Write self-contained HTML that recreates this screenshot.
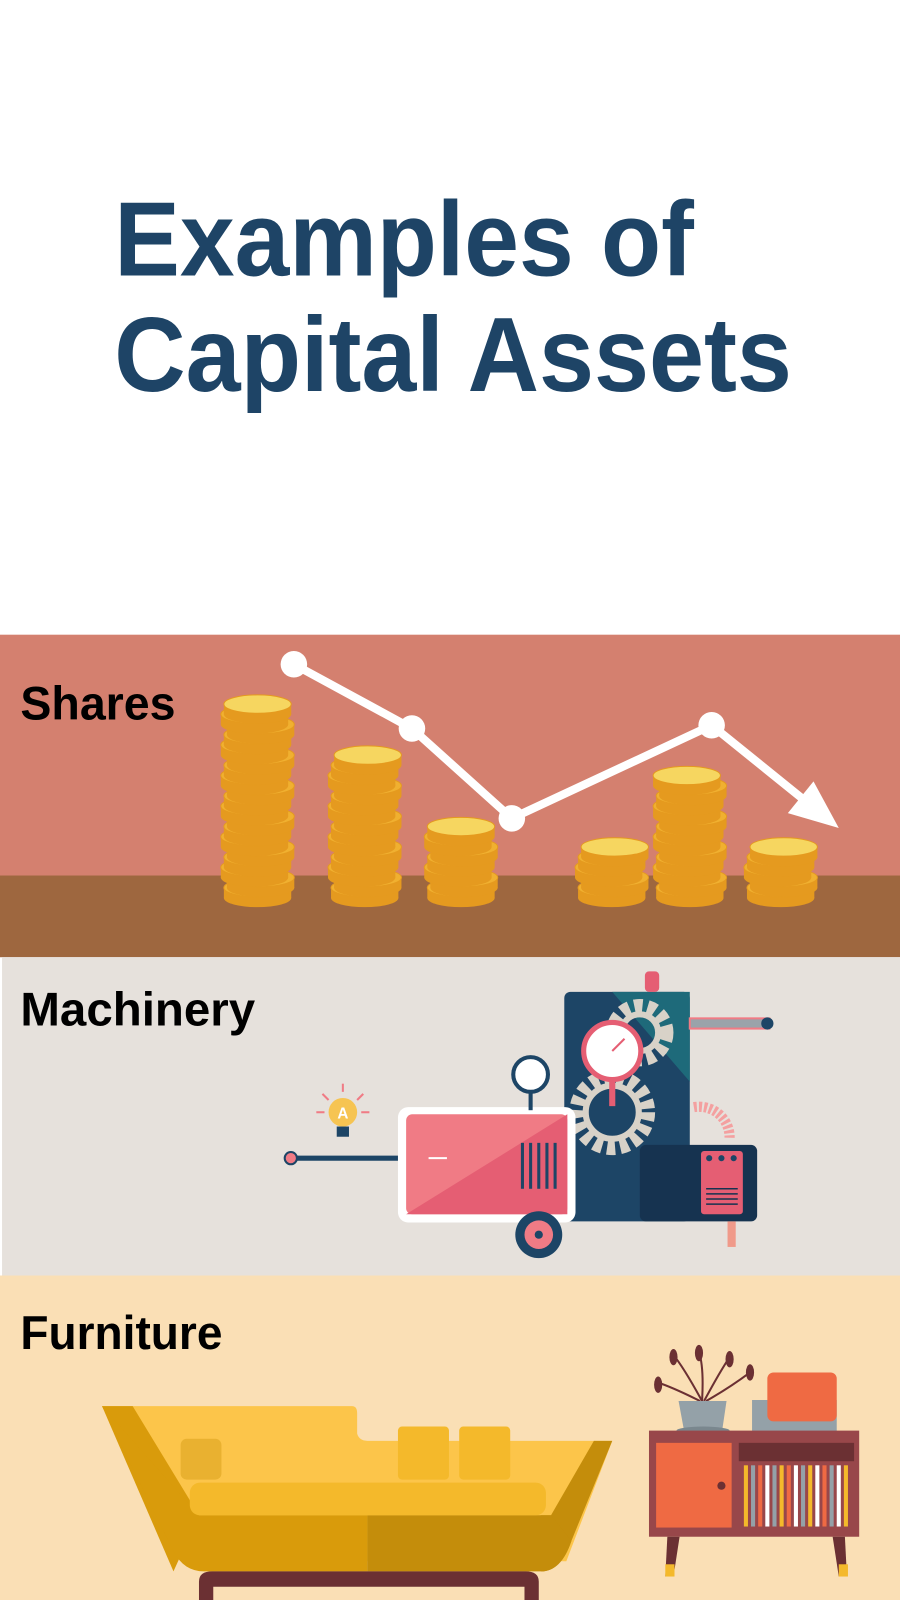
<!DOCTYPE html>
<html><head><meta charset="utf-8"><style>html,body{margin:0;padding:0;background:#fff}svg{display:block}</style></head>
<body>
<svg width="900" height="1600" viewBox="0 0 882 1568" xmlns="http://www.w3.org/2000/svg" font-family="Liberation Sans, sans-serif">
<rect width="882" height="1568" fill="#fff"/>
<g fill="#1e4466" font-weight="bold" font-size="104">
<text x="112" y="270" textLength="568" lengthAdjust="spacingAndGlyphs">Examples of</text>
<text x="112" y="383" textLength="664" lengthAdjust="spacingAndGlyphs">Capital Assets</text>
</g>

<g>
<rect x="0" y="622" width="882" height="316" fill="#d4806f"/>
<rect x="0" y="858" width="882" height="80" fill="#9e673f"/>
<text x="20" y="705" font-size="46" font-weight="bold" textLength="152" lengthAdjust="spacingAndGlyphs">Shares</text>
<g id="coins"></g>
<g id="trend"></g>
</g>

<g>
<rect x="2" y="938" width="880" height="312" fill="#e6e1dc"/>
<text x="20" y="1005" font-size="46" font-weight="bold" textLength="230" lengthAdjust="spacingAndGlyphs">Machinery</text>
<g>
<line x1="284" y1="1135" x2="392" y2="1135" stroke="#1d4566" stroke-width="5"/>
<circle cx="285" cy="1135" r="6" fill="#f07b85" stroke="#1d4566" stroke-width="2"/>
<g>
<circle cx="336" cy="1090" r="14" fill="#f6c452"/>
<rect x="330" y="1104" width="12" height="10" fill="#1d4566"/>
<text x="336" y="1096" font-size="15" font-weight="bold" fill="#fff" text-anchor="middle">A</text>
<g stroke="#f07b85" stroke-width="2"><line x1="336" y1="1062" x2="336" y2="1070"/><line x1="310" y1="1090" x2="318" y2="1090"/><line x1="354" y1="1090" x2="362" y2="1090"/><line x1="316" y1="1072" x2="322" y2="1078"/><line x1="356" y1="1072" x2="350" y2="1078"/></g>
</g>
<rect x="553" y="972" width="123" height="225" rx="6" fill="#1d4566"/>
<polygon points="600,972 676,972 676,1060" fill="#1e6a7a"/>
<rect x="632" y="952" width="14" height="20" rx="4" fill="#e55e73"/>
<rect x="676" y="998" width="78" height="10" fill="#9aa3aa" stroke="#f07b85" stroke-width="2"/>
<circle cx="752" cy="1003" r="6" fill="#1d4566"/>
<g fill="none" stroke="#d8d2c8" stroke-width="14" stroke-dasharray="8 5"><circle cx="600" cy="1090" r="35"/><circle cx="627" cy="1012" r="26"/></g>
<g fill="none" stroke="#d8d2c8" stroke-width="6"><circle cx="600" cy="1090" r="26"/><circle cx="627" cy="1012" r="18"/></g>
<circle cx="600" cy="1030" r="28" fill="#fff" stroke="#e55e73" stroke-width="5"/>
<line x1="600" y1="1030" x2="612" y2="1018" stroke="#e55e73" stroke-width="2"/>
<rect x="597" y="1058" width="6" height="26" fill="#e55e73"/>
<rect x="627" y="1122" width="115" height="75" rx="6" fill="#163350"/>
<rect x="687" y="1128" width="41" height="62" rx="3" fill="#e55e73"/>
<g fill="#1d4566"><circle cx="695" cy="1135" r="3"/><circle cx="707" cy="1135" r="3"/><circle cx="719" cy="1135" r="3"/></g>
<g stroke="#163350" stroke-width="1.5"><line x1="692" y1="1165" x2="723" y2="1165"/><line x1="692" y1="1170" x2="723" y2="1170"/><line x1="692" y1="1175" x2="723" y2="1175"/><line x1="692" y1="1180" x2="723" y2="1180"/></g>
<path d="M680,1085 A30,30 0 0 1 715,1115" stroke="#f4a0a0" stroke-width="10" fill="none" stroke-dasharray="3 2"/>
<rect x="713" y="1197" width="8" height="25" fill="#f09a8a"/>
<rect x="390" y="1085" width="174" height="113" rx="10" fill="#fff"/>
<rect x="398" y="1092" width="158" height="98" rx="6" fill="#f07b85"/>
<polygon points="398,1190 556,1092 556,1190" fill="#e55e73"/>
<g stroke="#1d4566" stroke-width="3"><line x1="512" y1="1120" x2="512" y2="1165"/><line x1="520" y1="1120" x2="520" y2="1165"/><line x1="528" y1="1120" x2="528" y2="1165"/><line x1="536" y1="1120" x2="536" y2="1165"/><line x1="544" y1="1120" x2="544" y2="1165"/></g>
<line x1="420" y1="1135" x2="438" y2="1135" stroke="#fff" stroke-width="2"/>
<line x1="520" y1="1070" x2="520" y2="1088" stroke="#1d4566" stroke-width="4"/>
<circle cx="520" cy="1053" r="17" fill="#fff" stroke="#1d4566" stroke-width="4"/>
<circle cx="528" cy="1210" r="23" fill="#1d4566"/>
<circle cx="528" cy="1210" r="14" fill="#f07b85"/>
<circle cx="528" cy="1210" r="4" fill="#1d4566"/>
</g>
</g>

<g>
<rect x="0" y="1250" width="882" height="318" fill="#fadfb5"/>
<text x="20" y="1322" font-size="46" font-weight="bold" textLength="198" lengthAdjust="spacingAndGlyphs">Furniture</text>
<g>
<path d="M100,1378 L345,1378 Q350,1378 350,1385 L350,1405 Q352,1412 360,1412 L600,1412 L555,1530 L180,1530 Z" fill="#fcc54a"/>
<path d="M100,1378 L130,1378 L195,1485 L170,1540 Z" fill="#d99b0b"/>
<path d="M582,1412 L600,1412 L560,1510 Q550,1540 530,1540 L530,1485 L540,1485 Z" fill="#c48d0b"/>
<path d="M100,1378 L170,1520 Q180,1540 200,1540 L360,1540 L360,1485 L195,1485 Z" fill="#d99b0b"/>
<path d="M360,1485 L540,1485 L560,1510 Q550,1540 530,1540 L360,1540 Z" fill="#c48d0b"/>
<rect x="186" y="1453" width="349" height="32" rx="10" fill="#f4b92b"/>
<rect x="177" y="1410" width="40" height="40" rx="6" fill="#e9b130"/>
<rect x="390" y="1398" width="50" height="52" rx="4" fill="#f4b92b"/>
<rect x="450" y="1398" width="50" height="52" rx="4" fill="#f4b92b"/>
<path d="M195,1568 L195,1550 Q195,1540 208,1540 L515,1540 Q528,1540 528,1550 L528,1568 L514,1568 L514,1555 L209,1555 L209,1568 Z" fill="#6b3033"/>
</g>
<g>
<g stroke="#6b3033" stroke-width="2" fill="none"><path d="M688,1373 Q670,1340 660,1328"/><path d="M688,1373 Q690,1340 685,1325"/><path d="M690,1373 Q705,1345 715,1330"/><path d="M692,1373 Q715,1360 735,1345"/><path d="M686,1373 Q660,1360 645,1355"/></g>
<g fill="#6b3033"><ellipse cx="660" cy="1330" rx="4" ry="8"/><ellipse cx="685" cy="1326" rx="4" ry="8"/><ellipse cx="715" cy="1332" rx="4" ry="8"/><ellipse cx="735" cy="1345" rx="4" ry="8"/><ellipse cx="645" cy="1357" rx="4" ry="8"/></g>
<path d="M665,1373 L712,1373 L708,1400 L670,1400 Z" fill="#94a1a8"/>
<ellipse cx="689" cy="1402" rx="26" ry="4" fill="#7a878e"/>
<rect x="737" y="1372" width="83" height="32" fill="#94a1a8"/>
<rect x="752" y="1345" width="68" height="48" rx="6" fill="#ef6a43"/>
<rect x="636" y="1402" width="206" height="104" fill="#98474a"/>
<rect x="643" y="1414" width="74" height="83" fill="#ef6a43"/>
<circle cx="707" cy="1456" r="4" fill="#6b3033"/>
<rect x="724" y="1414" width="113" height="18" fill="#6b3033"/>
<g id="records"></g>
<polygon points="654,1506 666,1506 660,1545 652,1545" fill="#6b3033"/>
<polygon points="816,1506 828,1506 830,1545 822,1545" fill="#6b3033"/>
<rect x="652" y="1533" width="9" height="12" fill="#f4b92b"/>
<rect x="822" y="1533" width="9" height="12" fill="#f4b92b"/>
</g>
</g>
</svg>
<script>
// Shares trend data: day of observation and relative index value
const trendDays = [0, 6.5, 12, 23, 30];
const trendValues = [100, 80, 52, 81, 49];
// Coin stacks: day placed and number of coins
const stackDays = [-2, 3.9, 9.2, 17.5, 21.8, 26.8];
const stackCoins = [19, 14, 7, 5, 12, 5];

const NS = 'http://www.w3.org/2000/svg';
function xDay(d){ return 288 + d * (822 - 288) / 30; }
function yTrend(v){ return 651 + (100 - v) * (802 - 651) / (100 - 52); }
function mk(tag, attrs, parent){ const e = document.createElementNS(NS, tag); for (const k in attrs) e.setAttribute(k, attrs[k]); parent.appendChild(e); return e; }

const coins = document.getElementById('coins');
stackCoins.forEach((n, i) => {
  const cx = xDay(stackDays[i]);
  const g = mk('g', {}, coins);
  
  
  for (let k = 0; k < n; k++) {
    const cy = 880 - k * 10;
    const off = (k % 3 === 1) ? 3 : (k % 3 === 2 ? -3 : 0);
    mk('rect', {x: cx - 33 + off, y: cy - 10, width: 66, height: 10, fill: '#e59a1f'}, g);
    mk('ellipse', {cx: cx + off, cy: cy, rx: 33, ry: 9, fill: '#e59a1f'}, g);
    mk('ellipse', {cx: cx + off, cy: cy - 10, rx: 33, ry: 9, fill: k === n - 1 ? '#f6d660' : '#f0b030', stroke: '#e59a1f', 'stroke-width': 1}, g);
  }
});

const trend = document.getElementById('trend');
const pts = trendValues.map((v, i) => [xDay(trendDays[i]), yTrend(v)]);
const last = pts[pts.length - 1], prev = pts[pts.length - 2];
const ang = Math.atan2(last[1] - prev[1], last[0] - prev[0]);
const lineEnd = [last[0] - 30 * Math.cos(ang), last[1] - 30 * Math.sin(ang)];
const poly = mk('polyline', {points: pts.slice(0, -1).concat([lineEnd]).map(p => p.join(',')).join(' '), fill: 'none', stroke: '#fff', 'stroke-width': 8}, trend);


pts.slice(0, -1).forEach((p, i) => {
  const c = mk('circle', {cx: p[0], cy: p[1], r: 13, fill: '#fff'}, trend);
  
  
});
const a1 = [last[0] - 48 * Math.cos(ang) + 20 * Math.sin(ang), last[1] - 48 * Math.sin(ang) - 20 * Math.cos(ang)];
const a2 = [last[0] - 48 * Math.cos(ang) - 20 * Math.sin(ang), last[1] - 48 * Math.sin(ang) + 20 * Math.cos(ang)];
const head = mk('polygon', {points: [last, a1, a2].map(p => p.join(',')).join(' '), fill: '#fff'}, trend);



const recColors = ['#f4b92b','#94a1a8','#ef6a43','#fff','#94a1a8','#f4b92b','#ef6a43','#fff','#94a1a8','#f4b92b','#fff','#ef6a43','#94a1a8','#fff','#f4b92b'];
const rec = document.getElementById('records');
recColors.forEach((c, i) => {
  const r = mk('rect', {x: 729 + i * 7, y: 1436, width: 4, height: 60, fill: c}, rec);
  
  
});
</script>
</body></html>
